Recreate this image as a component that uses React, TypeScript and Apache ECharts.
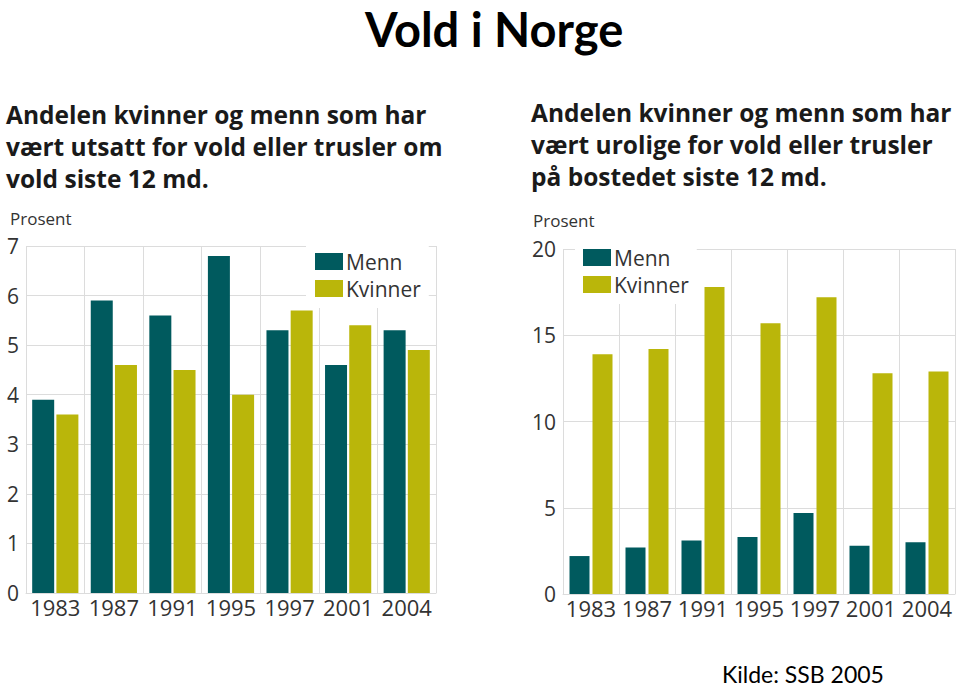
import React, { useEffect, useRef } from "react";
import * as echarts from "echarts";

const years = ["1983", "1987", "1991", "1995", "1997", "2001", "2004"];
const voldMenn = [3.9, 5.9, 5.6, 6.8, 5.3, 4.6, 5.3];
const voldKvinner = [3.6, 4.6, 4.5, 4.0, 5.7, 5.4, 4.9];
const uroMenn = [2.2, 2.7, 3.1, 3.3, 4.7, 2.8, 3.0];
const uroKvinner = [13.9, 14.2, 17.8, 15.7, 17.2, 12.8, 12.9];

const MENN = "#005a5e";
const KVINNER = "#bab60a";
const GRID = "#dcdcdc";
const FONT = "'Open Sans', 'Noto Sans', sans-serif";

export default function App() {
  const ref = useRef<HTMLDivElement>(null);
  useEffect(() => {
    if (!ref.current) return;
    const chart = echarts.init(ref.current, null, { renderer: "svg" });
    const xAxisBase = (gridIndex: number) => ({
      type: "category",
      gridIndex,
      data: years,
      axisTick: { show: false },
      axisLine: { show: true, lineStyle: { color: GRID, width: 1 } },
      splitLine: { show: true, lineStyle: { color: GRID, width: 1 } },
      axisLabel: { interval: 0, fontSize: 22, color: "#333", fontFamily: FONT, margin: 3 },
    });
    const yAxisBase = (gridIndex: number, max: number, interval: number) => ({
      type: "value",
      gridIndex,
      min: 0,
      max,
      interval,
      axisLine: { show: false },
      axisTick: { show: false },
      splitLine: { show: true, lineStyle: { color: GRID, width: 1 } },
      axisLabel: { fontSize: 21, color: "#333", fontFamily: FONT, margin: 7 },
    });
    const titleStyle = { fontSize: 24.5, fontWeight: "bold", color: "#1a1a1a", fontFamily: FONT, lineHeight: 32 };
    chart.setOption({
      animation: false,
      backgroundColor: "#ffffff",
      title: [
        { text: "Vold i Norge", left: 360, top: 0, textStyle: { fontSize: 47, fontWeight: "bold", color: "#000", fontFamily: "Lato, sans-serif" } },
        { text: "Andelen kvinner og menn som har\nvært utsatt for vold eller trusler om\nvold siste 12 md.", left: 1, top: 93, textStyle: titleStyle },
        { text: "Andelen kvinner og menn som har\nvært urolige for vold eller trusler\npå bostedet siste 12 md.", left: 526, top: 91, textStyle: titleStyle },
        { text: "Prosent", left: 5, top: 205, textStyle: { fontSize: 17, fontWeight: "normal", color: "#333", fontFamily: FONT } },
        { text: "Prosent", left: 528, top: 207, textStyle: { fontSize: 17, fontWeight: "normal", color: "#333", fontFamily: FONT } },
        { text: "Kilde: SSB 2005", left: 717, top: 657, textStyle: { fontSize: 23, fontWeight: "normal", color: "#000", fontFamily: "Lato, sans-serif" } },
      ],
      legend: [
        {
          orient: "vertical",
          left: 306,
          top: 242,
          padding: [9, 8, 9, 9],
          itemGap: 6,
          itemWidth: 28,
          itemHeight: 17,
          backgroundColor: "#ffffff",
          data: ["Menn", "Kvinner"],
          icon: "rect",
          textStyle: { fontSize: 21, color: "#333", fontFamily: FONT, padding: [0, 0, 0, -2] },
        },
        {
          orient: "vertical",
          left: 575,
          top: 238,
          padding: [9, 8, 9, 8],
          itemGap: 6,
          itemWidth: 28,
          itemHeight: 17,
          backgroundColor: "#ffffff",
          data: ["Menn", "Kvinner"],
          icon: "rect",
          textStyle: { fontSize: 21, color: "#333", fontFamily: FONT, padding: [0, 0, 0, -2] },
        },
      ],
      grid: [
        { left: 26, top: 246, width: 410, height: 347 },
        { left: 563, top: 249, width: 392, height: 345 },
      ],
      xAxis: [xAxisBase(0), xAxisBase(1)],
      yAxis: [yAxisBase(0, 7, 1), yAxisBase(1, 20, 5)],
      series: [
        { name: "Menn", type: "bar", xAxisIndex: 0, yAxisIndex: 0, data: voldMenn, barWidth: 22, barGap: "10%", itemStyle: { color: MENN } },
        { name: "Kvinner", type: "bar", xAxisIndex: 0, yAxisIndex: 0, data: voldKvinner, barWidth: 22, barGap: "10%", itemStyle: { color: KVINNER } },
        { name: "Menn", type: "bar", xAxisIndex: 1, yAxisIndex: 1, data: uroMenn, barWidth: 20, barGap: "15%", itemStyle: { color: MENN } },
        { name: "Kvinner", type: "bar", xAxisIndex: 1, yAxisIndex: 1, data: uroKvinner, barWidth: 20, barGap: "15%", itemStyle: { color: KVINNER } },
      ],
    });
    return () => chart.dispose();
  }, []);
  return <div ref={ref} style={{ position: "fixed", left: 0, top: 0, width: 960, height: 690 }} />;
}
